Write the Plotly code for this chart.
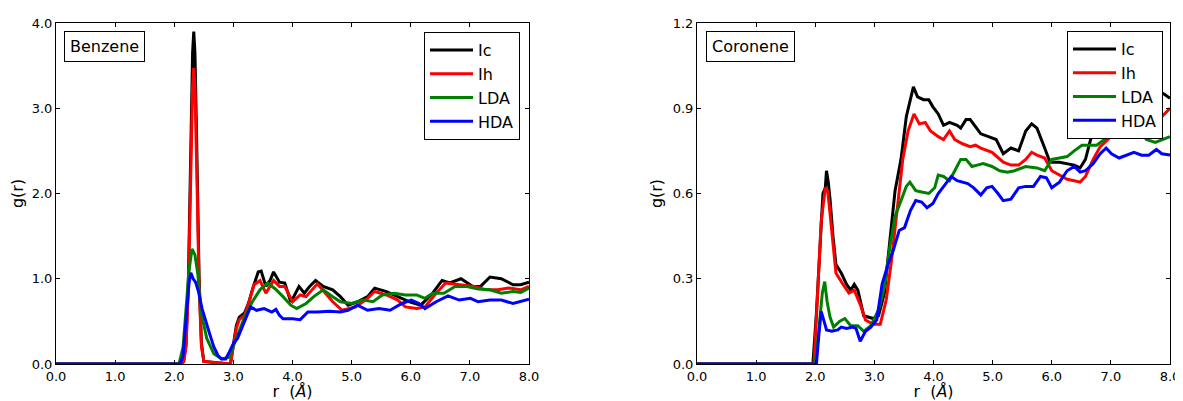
import plotly.graph_objects as go

# ---------------- Benzene ----------------
r_benz_ic = [0, 2.12, 2.16, 2.20, 2.24, 2.28, 2.31, 2.33, 2.35, 2.38, 2.42, 2.46, 2.50, 2.95, 3.00, 3.05,
             3.10, 3.19, 3.26, 3.32, 3.42, 3.47, 3.55, 3.62, 3.68, 3.78, 3.87, 3.97, 4.03, 4.11, 4.20,
             4.29, 4.39, 4.52, 4.68, 4.81, 4.94, 5.10, 5.27, 5.39, 5.59, 5.78, 5.98, 6.17, 6.37, 6.53,
             6.66, 6.85, 7.05, 7.18, 7.34, 7.53, 7.73, 7.86, 8.0]
g_benz_ic = [0, 0, 0.03, 0.24, 1.02, 2.58, 3.65, 3.90, 3.65, 2.58, 1.02, 0.24, 0.03, 0, 0.20, 0.45,
             0.55, 0.60, 0.72, 0.87, 1.08, 1.09, 0.91, 0.98, 1.08, 0.96, 0.95, 0.73, 0.80, 0.91, 0.83,
             0.91, 0.98, 0.91, 0.87, 0.79, 0.69, 0.73, 0.79, 0.89, 0.85, 0.79, 0.73, 0.69, 0.83, 0.98,
             0.95, 1.00, 0.91, 0.91, 1.02, 1.00, 0.93, 0.93, 0.96]

r_benz_ih = [0, 2.12, 2.16, 2.20, 2.24, 2.28, 2.31, 2.33, 2.35, 2.38, 2.42, 2.46, 2.50, 2.95, 3.00, 3.05,
             3.10, 3.19, 3.26, 3.35, 3.45, 3.55, 3.68, 3.78, 3.87, 4.00, 4.13, 4.23, 4.42, 4.55, 4.68,
             4.84, 5.07, 5.27, 5.39, 5.59, 5.78, 5.91, 6.10, 6.24, 6.43, 6.59, 6.81, 7.08, 7.27, 7.47,
             7.66, 7.86, 8.0]
g_benz_ih = [0, 0, 0.03, 0.21, 0.91, 2.30, 3.25, 3.47, 3.25, 2.30, 0.91, 0.21, 0.03, 0, 0.20, 0.42,
             0.52, 0.57, 0.72, 0.93, 0.98, 0.83, 0.98, 0.91, 0.91, 0.73, 0.81, 0.79, 0.94, 0.83, 0.73,
             0.63, 0.67, 0.77, 0.85, 0.81, 0.75, 0.67, 0.65, 0.67, 0.83, 0.95, 0.93, 0.91, 0.87, 0.87,
             0.89, 0.87, 0.91]

r_benz_lda = [0, 2.08, 2.15, 2.20, 2.25, 2.30, 2.35, 2.40, 2.45, 2.55, 2.67, 2.80, 2.93, 3.06, 3.19,
              3.32, 3.45, 3.58, 3.71, 3.84, 3.97, 4.07, 4.23, 4.36, 4.52, 4.68, 4.81, 5.00, 5.20, 5.36,
              5.52, 5.72, 5.91, 6.10, 6.24, 6.37, 6.56, 6.75, 6.95, 7.14, 7.34, 7.53, 7.73, 7.86, 8.0]
g_benz_lda = [0, 0, 0.20, 0.60, 1.10, 1.35, 1.28, 1.05, 0.62, 0.30, 0.12, 0.06, 0.08, 0.32, 0.55,
              0.73, 0.87, 0.95, 0.88, 0.79, 0.69, 0.65, 0.71, 0.79, 0.87, 0.79, 0.73, 0.71, 0.75, 0.73,
              0.81, 0.83, 0.81, 0.81, 0.77, 0.83, 0.83, 0.91, 0.91, 0.88, 0.87, 0.83, 0.85, 0.84, 0.89]

r_benz_hda = [0, 2.10, 2.15, 2.20, 2.25, 2.28, 2.32, 2.36, 2.41, 2.47, 2.53, 2.60, 2.67, 2.74, 2.80,
              2.87, 2.93, 3.00, 3.07, 3.13, 3.20, 3.29, 3.39, 3.52, 3.65, 3.72, 3.78, 3.84, 4.00, 4.13,
              4.26, 4.42, 4.62, 4.81, 4.94, 5.10, 5.27, 5.46, 5.65, 5.85, 6.01, 6.14, 6.24, 6.43, 6.63,
              6.82, 7.01, 7.14, 7.34, 7.53, 7.73, 7.86, 8.0]
g_benz_hda = [0, 0, 0.10, 0.50, 0.95, 1.07, 1.00, 0.96, 0.85, 0.65, 0.50, 0.35, 0.20, 0.10, 0.06,
              0.06, 0.14, 0.24, 0.30, 0.40, 0.52, 0.67, 0.63, 0.65, 0.61, 0.64, 0.57, 0.53, 0.53, 0.52,
              0.61, 0.61, 0.62, 0.61, 0.63, 0.69, 0.63, 0.65, 0.63, 0.71, 0.75, 0.71, 0.65, 0.73, 0.80,
              0.75, 0.77, 0.73, 0.75, 0.75, 0.71, 0.73, 0.76]

# ---------------- Coronene ----------------
r_cor_ic = [0, 1.96, 2.02, 2.08, 2.13, 2.17, 2.19, 2.22, 2.25, 2.30, 2.35, 2.44, 2.53, 2.60, 2.66,
            2.72, 2.82, 2.98, 3.07, 3.17, 3.26, 3.35, 3.45, 3.54, 3.66, 3.73, 3.83, 3.92, 3.99, 4.08,
            4.17, 4.27, 4.40, 4.46, 4.55, 4.62, 4.71, 4.80, 4.93, 5.06, 5.18, 5.31, 5.44, 5.56, 5.66,
            5.75, 5.88, 5.97, 6.13, 6.26, 6.38, 6.48, 6.57, 6.67, 6.73, 6.85, 7.00, 7.20, 7.50, 7.80,
            7.90, 8.0]
g_cor_ic = [0, 0, 0.18, 0.42, 0.60, 0.62, 0.68, 0.64, 0.58, 0.45, 0.35, 0.32, 0.28, 0.26, 0.28,
            0.26, 0.17, 0.16, 0.17, 0.25, 0.44, 0.61, 0.72, 0.87, 0.975, 0.94, 0.93, 0.93, 0.905, 0.88,
            0.84, 0.85, 0.84, 0.83, 0.86, 0.86, 0.835, 0.81, 0.80, 0.79, 0.74, 0.76, 0.75, 0.82, 0.845,
            0.83, 0.76, 0.71, 0.71, 0.705, 0.70, 0.69, 0.72, 0.80, 0.86, 0.92, 0.95, 0.97, 0.96, 0.96,
            0.95, 0.935]

r_cor_ih = [0, 1.98, 2.04, 2.10, 2.17, 2.21, 2.25, 2.30, 2.35, 2.47, 2.57, 2.66, 2.76, 2.85, 2.98,
            3.10, 3.20, 3.29, 3.39, 3.48, 3.57, 3.67, 3.76, 3.86, 3.95, 4.08, 4.17, 4.27, 4.36, 4.49,
            4.62, 4.71, 4.80, 4.99, 5.18, 5.31, 5.44, 5.56, 5.66, 5.75, 5.88, 6.00, 6.13, 6.26, 6.38,
            6.48, 6.57, 6.70, 6.82, 7.00, 7.20, 7.50, 7.70, 7.86, 8.0]
g_cor_ih = [0, 0, 0.25, 0.50, 0.62, 0.61, 0.53, 0.42, 0.32, 0.28, 0.25, 0.26, 0.21, 0.155, 0.14,
            0.14, 0.225, 0.365, 0.55, 0.72, 0.82, 0.88, 0.845, 0.85, 0.82, 0.80, 0.79, 0.82, 0.79, 0.775,
            0.765, 0.77, 0.76, 0.745, 0.71, 0.70, 0.70, 0.72, 0.745, 0.735, 0.725, 0.68, 0.665, 0.65, 0.645,
            0.64, 0.66, 0.72, 0.765, 0.80, 0.82, 0.84, 0.86, 0.87, 0.90]

r_cor_lda = [0, 2.00, 2.06, 2.12, 2.16, 2.20, 2.25, 2.31, 2.41, 2.50, 2.60, 2.72, 2.82, 2.94, 3.07,
             3.17, 3.26, 3.35, 3.45, 3.54, 3.60, 3.70, 3.80, 3.92, 4.02, 4.08, 4.17, 4.27, 4.36, 4.46,
             4.55, 4.65, 4.74, 4.84, 4.99, 5.12, 5.25, 5.37, 5.56, 5.75, 5.88, 6.00, 6.13, 6.26, 6.38,
             6.51, 6.64, 6.76, 6.89, 7.01, 7.10, 7.30, 7.50, 7.60, 7.75, 7.86, 8.0]
g_cor_lda = [0, 0, 0.12, 0.25, 0.29, 0.22, 0.165, 0.13, 0.15, 0.16, 0.135, 0.135, 0.115, 0.135, 0.19,
             0.27, 0.41, 0.52, 0.575, 0.625, 0.64, 0.61, 0.605, 0.60, 0.62, 0.665, 0.66, 0.645, 0.68, 0.72,
             0.72, 0.695, 0.70, 0.705, 0.695, 0.68, 0.675, 0.68, 0.695, 0.69, 0.68, 0.72, 0.725, 0.73, 0.75,
             0.77, 0.77, 0.77, 0.79, 0.81, 0.83, 0.84, 0.82, 0.79, 0.78, 0.79, 0.80]

r_cor_hda = [0, 2.02, 2.06, 2.10, 2.15, 2.19, 2.28, 2.38, 2.44, 2.53, 2.63, 2.69, 2.76, 2.85, 2.94,
             3.04, 3.13, 3.23, 3.32, 3.42, 3.51, 3.61, 3.70, 3.80, 3.89, 3.99, 4.08, 4.17, 4.30, 4.40,
             4.49, 4.58, 4.68, 4.80, 4.90, 4.99, 5.09, 5.18, 5.31, 5.44, 5.56, 5.69, 5.81, 5.91, 6.00,
             6.13, 6.26, 6.38, 6.48, 6.57, 6.70, 6.82, 6.92, 7.01, 7.14, 7.26, 7.39, 7.52, 7.64, 7.77,
             7.86, 8.0]
g_cor_hda = [0, 0, 0.10, 0.185, 0.15, 0.12, 0.115, 0.12, 0.13, 0.125, 0.13, 0.125, 0.08, 0.115, 0.13,
             0.155, 0.28, 0.35, 0.40, 0.47, 0.48, 0.54, 0.575, 0.57, 0.55, 0.565, 0.60, 0.625, 0.66, 0.645,
             0.64, 0.635, 0.62, 0.595, 0.62, 0.625, 0.60, 0.575, 0.58, 0.62, 0.625, 0.625, 0.66, 0.655, 0.62,
             0.64, 0.68, 0.695, 0.675, 0.68, 0.705, 0.74, 0.76, 0.74, 0.725, 0.735, 0.745, 0.735, 0.735, 0.755,
             0.74, 0.735]

names = ["Ic", "Ih", "LDA", "HDA"]
colors = ["#000000", "#ff0000", "#008000", "#0000ff"]
x_ticks = [0, 1, 2, 3, 4, 5, 6, 7, 8]
x_ticktext = ["0.0", "1.0", "2.0", "3.0", "4.0", "5.0", "6.0", "7.0", "8.0"]
y_ticks_benz = [0, 1, 2, 3, 4]
y_ticktext_benz = ["0.0", "1.0", "2.0", "3.0", "4.0"]
y_ticks_cor = [0, 0.3, 0.6, 0.9, 1.2]
y_ticktext_cor = ["0.0", "0.3", "0.6", "0.9", "1.2"]

# The page body has an 8px margin, so the figure is drawn 8px smaller and positions are offset.
OFF = 8
W, H = 1183 - OFF, 401 - OFF
FONT = "DejaVu Sans"

fig = go.Figure()
benz = [(r_benz_ic, g_benz_ic), (r_benz_ih, g_benz_ih), (r_benz_lda, g_benz_lda), (r_benz_hda, g_benz_hda)]
cor = [(r_cor_ic, g_cor_ic), (r_cor_ih, g_cor_ih), (r_cor_lda, g_cor_lda), (r_cor_hda, g_cor_hda)]
for (rr, gg), nm, c in zip(benz, names, colors):
    fig.add_trace(go.Scatter(x=rr, y=gg, mode="lines", name=nm, line=dict(color=c, width=3),
                             xaxis="x", yaxis="y", legend="legend"))
for (rr, gg), nm, c in zip(cor, names, colors):
    fig.add_trace(go.Scatter(x=rr, y=gg, mode="lines", name=nm, line=dict(color=c, width=3),
                             xaxis="x2", yaxis="y2", legend="legend2"))

def px(v):
    return (v - OFF) / W

def py(v):
    return 1 - (v - OFF) / H

ydom = [py(364), py(23)]
common = dict(showline=True, linecolor="black", linewidth=1, mirror="ticks", ticks="inside",
              ticklen=4, tickcolor="black", tickwidth=1, showgrid=False, zeroline=False,
              tickfont=dict(family=FONT, size=13, color="black"), automargin=False)

fig.update_layout(
    width=W, height=H,
    margin=dict(l=0, r=0, t=0, b=0),
    paper_bgcolor="white", plot_bgcolor="white",
    font=dict(family=FONT, color="black"),
    xaxis=dict(domain=[px(56), px(529)], range=[0, 8], tickvals=x_ticks, ticktext=x_ticktext,
               anchor="y", title=dict(text="r  (<i>Å</i>)", font=dict(size=16), standoff=2), **common),
    yaxis=dict(domain=ydom, range=[0, 4], tickvals=y_ticks_benz, ticktext=y_ticktext_benz,
               anchor="x", title=dict(text="g(r)", font=dict(size=16), standoff=6), **common),
    xaxis2=dict(domain=[px(697), px(1170)], range=[0, 8], tickvals=x_ticks, ticktext=x_ticktext,
                anchor="y2", title=dict(text="r  (<i>Å</i>)", font=dict(size=16), standoff=2), **common),
    yaxis2=dict(domain=ydom, range=[0, 1.2], tickvals=y_ticks_cor, ticktext=y_ticktext_cor,
                anchor="x2", title=dict(text="g(r)", font=dict(size=16), standoff=6), **common),
    legend=dict(x=px(520), y=py(32), xanchor="right", yanchor="top", bordercolor="black",
                borderwidth=1, bgcolor="white", font=dict(family=FONT, size=16),
                itemwidth=43, tracegroupgap=0),
    legend2=dict(x=px(1163), y=py(31), xanchor="right", yanchor="top", bordercolor="black",
                 borderwidth=1, bgcolor="white", font=dict(family=FONT, size=16),
                 itemwidth=43, tracegroupgap=0),
    showlegend=True,
)

fig.add_annotation(text="Benzene", xref="paper", yref="paper", x=px(64), y=py(31),
                   xanchor="left", yanchor="top", showarrow=False, bordercolor="black",
                   borderwidth=1, borderpad=5, bgcolor="white", font=dict(family=FONT, size=16))
fig.add_annotation(text="Coronene", xref="paper", yref="paper", x=px(706), y=py(31),
                   xanchor="left", yanchor="top", showarrow=False, bordercolor="black",
                   borderwidth=1, borderpad=5, bgcolor="white", font=dict(family=FONT, size=16))

fig.write_html("out.html")
